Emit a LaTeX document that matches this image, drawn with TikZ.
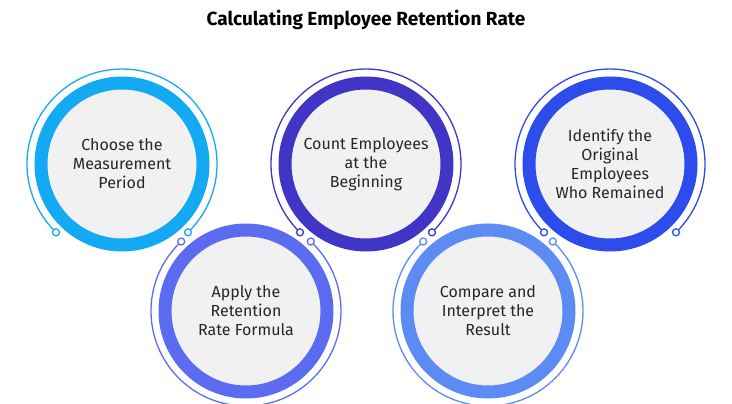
\documentclass[tikz,border=0pt]{standalone}
\usepackage{fontspec}
\setmainfont{Fira Sans}
\definecolor{cA}{HTML}{14A9F3}
\definecolor{cB}{HTML}{4035C4}
\definecolor{cC}{HTML}{2C4CEB}
\definecolor{cD}{HTML}{5B6CF1}
\definecolor{cE}{HTML}{5C8CF3}
\definecolor{disc}{HTML}{F1F1F1}
\tikzset{
  step/.style={circle, draw=#1, line width=13pt, fill=disc, minimum size=162pt,
    align=center, font=\fontsize{16}{19}\selectfont, text=black!85},
  dot/.style={circle, draw=#1, fill=white, line width=1.3pt, minimum size=7pt, inner sep=0pt},
  halo/.style={draw=#1, line width=1.3pt}
}
\begin{document}
\begin{tikzpicture}[x=1pt,y=-1pt]
  \useasboundingbox (0,0) rectangle (732,404);
  \node[font=\bfseries\fontsize{19}{22}\selectfont] (T) at (366,20) {Calculating Employee Retention Rate};
  % thin arcs
  \draw[halo=cA] (122,164) ++(-226:95) arc[start angle=-226, end angle=46, radius=95];
  \draw[halo=cB] (366,164) ++(-226:95) arc[start angle=-226, end angle=46, radius=95];
  \draw[halo=cC] (610,164) ++(-226:95) arc[start angle=-226, end angle=46, radius=95];
  \draw[halo=cD] (246,311) ++(-133:95) arc[start angle=-133, end angle=-407, radius=95];
  \draw[halo=cE] (488,311) ++(-133:95) arc[start angle=-133, end angle=-407, radius=95];
  \node[step=cA] (A) at (122,164) {Choose the\\Measurement\\Period};
  \node[step=cB] (B) at (366,164) {Count Employees\\at the\\Beginning};
  \node[step=cC] (C) at (610,164) {Identify the\\Original\\Employees\\Who Remained};
  \node[step=cD] (D) at (246,311) {Apply the\\Retention\\Rate Formula};
  \node[step=cE] (E) at (488,311) {Compare and\\Interpret the\\Result};
  % end dots
  \node[dot=cA] (A1) at ([shift={(-226:95)}]A.center) {};
  \node[dot=cA] (A2) at ([shift={(46:95)}]A.center) {};
  \node[dot=cB] (B1) at ([shift={(-226:95)}]B.center) {};
  \node[dot=cB] (B2) at ([shift={(46:95)}]B.center) {};
  \node[dot=cC] (C1) at ([shift={(-226:95)}]C.center) {};
  \node[dot=cC] (C2) at ([shift={(46:95)}]C.center) {};
  \node[dot=cD] (D1) at ([shift={(-133:95)}]D.center) {};
  \node[dot=cD] (D2) at ([shift={(-47:95)}]D.center) {};
  \node[dot=cE] (E1) at ([shift={(-133:95)}]E.center) {};
  \node[dot=cE] (E2) at ([shift={(-47:95)}]E.center) {};
\end{tikzpicture}
\end{document}
